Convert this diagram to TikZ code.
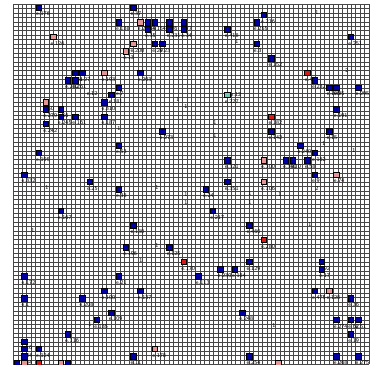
\documentclass[tikz,border=0pt]{standalone}
\usetikzlibrary{positioning}
\definecolor{cB}{RGB}{0,0,160}
\definecolor{cP}{RGB}{228,150,150}
\definecolor{cR}{RGB}{215,25,25}
\definecolor{cT}{RGB}{115,200,190}

% column/row/colour/label of each agent, sorted by row
\def\agents{
3/0/cB/e.176, 16/0/cB/e.37,
34/1/cB/e.216,
14/2/cB/e.138, 17/2/cP/e.20, 18/2/cB/e.14, 19/2/cB/e.154, 21/2/cB/e.76, 23/2/cB/e.77, 33/2/cB/e.255,
18/3/cB/e.35, 21/3/cB/e.231, 23/3/cB/e.34, 29/3/cB/e.418,
5/4/cP/e.126, 46/4/cB/e.251,
16/5/cP/e.200, 19/5/cB/e.29, 20/5/cB/e.23, 33/5/cB/e.3,
15/6/cP/e.13,
35/7/cB/e.152,
8/9/cB/e.31, 9/9/cB/e.27, 12/9/cP/e.193, 17/9/cB/e.203, 40/9/cR/e.4,
7/10/cB/e.282, 8/10/cB/e.261, 41/10/cB/e.232,
14/11/cB/e.7, 43/11/cB/e.190, 44/11/cB/e.95, 47/11/cB/e.295,
13/12/cB/e.181, 29/12/cT/e.227,
4/13/cP/e.50, 12/13/cB/e.310,
4/14/cB/e.279, 6/14/cB/e.56, 44/14/cB/e.191,
6/15/cB/e.245, 8/15/cB/e.161, 12/15/cB/e.187, 35/15/cR/e.182,
4/16/cB/e.242,
20/17/cB/e.273, 35/17/cB/e.142, 43/17/cB/e.15,
14/19/cB/e.53, 39/19/cB/e.240,
3/20/cB/e.195, 41/20/cB/e.162,
29/21/cB/e.321, 34/21/cP/e.300, 37/21/cB/e.390, 38/21/cB/e.10, 40/21/cB/e.58,
1/23/cB/e.332, 41/23/cB/e.9, 44/23/cP/e.74,
10/24/cB/e.25, 29/24/cB/e.351, 34/24/cP/e.106,
14/25/cB/e.38, 26/25/cB/e.24,
6/28/cB/e.167, 27/28/cB/e.217,
16/30/cB/e.130, 32/30/cB/e.460,
34/32/cR/e.280,
15/33/cB/e.196, 21/33/cB/e.125,
23/35/cR/e.170, 32/35/cB/e.129, 42/35/cB/e.92,
28/36/cB/e.230, 30/36/cB/e.184, 42/36/cB/e.17,
1/37/cB/e.172, 14/37/cB/e.21, 25/37/cB/e.113,
12/39/cB/e.100, 17/39/cB/e.137, 41/39/cB/e.475, 43/39/cP/e.128,
1/40/cB/e.1, 9/40/cB/e.208, 46/40/cB/e.36,
13/42/cB/e.109, 31/42/cB/e.248,
11/43/cB/e.135, 44/43/cB/e.274, 46/43/cB/e.62, 47/43/cB/e.51,
7/45/cB/e.116, 46/45/cB/e.19,
1/46/cB/e.16,
1/47/cB/e.84, 3/47/cB/e.124, 19/47/cP/e.178,
1/48/cB/e.44, 16/48/cB/e.11, 32/48/cB/e.254, 44/48/cB/e.268, 47/48/cB/e.275,
0/49/cB/, 1/49/cP/, 3/49/cR/, 6/49/cP/, 7/49/cB/, 36/49/cP/}

% loose counts and labels
\def\marks{14.56/-17.22/1, 27.78/-16.39/1, 27.78/-18.18/1, 4.64/-25.34/1,
2.71/-31.27/1, 19.79/-25.34/1, 23.79/-26.31/1, 23.79/-27.41/1,
42.80/-19.28/1, 46.93/-20.25/1, 41.83/-25.48/2, 32.60/-26.17/1,
32.60/-27.41/1, 36.74/-26.31/1, 40.87/-30.44/1, 10.56/-44.21/1,
19.79/-33.33/1, 17.59/-35.40/1, 35.91/-44.35/1, 30.81/-5.23/1,
22.69/-13.22/1, 23.79/-14.19/1, 41.83/-1.24/1, 45.96/-9.23/2,
10.85/-12.40/e.12, 30.67/-12.53/e.12}

\begin{document}
\begin{tikzpicture}[
  x=2.2mm, y=2.2mm,
  font=\sffamily\fontsize{5}{6}\selectfont,
  gridline/.style={draw=black!72, line width=0.38pt},
  agt/.style={rectangle, draw=black, line width=0.4pt, minimum size=1.67mm, inner sep=0pt},
  lbl/.style={inner sep=0pt, anchor=north west, text=black},
  cnt/.style={inner sep=0pt, text=black}
]
\fill[white] (-1.832,-49.587) rectangle (49.27,0.551);
\useasboundingbox (-1.832,-49.587) rectangle (49.27,0.551);

% the grid, 80 columns by 81 rows
\foreach \i in {0,...,80} {
  \draw[gridline] (\i*0.6125,0) -- (\i*0.6125,-49.6);
}
\foreach \j in {0,...,81} {
  \draw[gridline] (0,-\j*0.6125) -- (49,-\j*0.6125);
}

% labels first, so the squares sit on top of them
\foreach \k/\m/\c/\t in \agents {
  \node[lbl] (l-\k-\m) at (\k+0.12,-\m-1.08) {\t};
}
\foreach \k/\m/\c/\t in \agents {
  \node[agt, fill=\c] (a-\k-\m) at (\k+0.5,-\m-0.5) {};
}

\foreach \x/\y/\t [count=\i] in \marks {
  \node[cnt] (n\i) at (\x,\y) {\t};
}
\end{tikzpicture}
\end{document}
